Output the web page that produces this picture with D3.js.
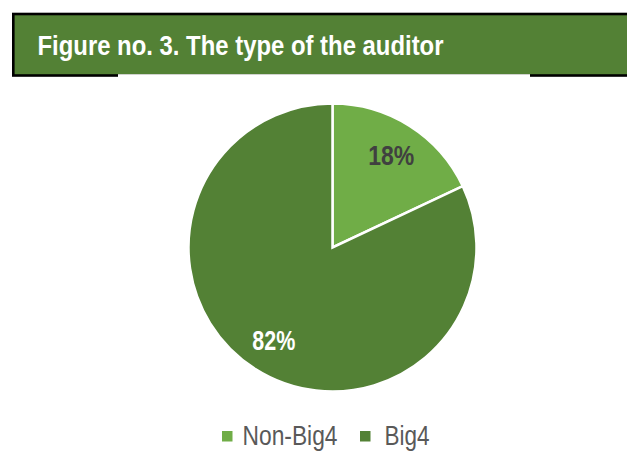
<!DOCTYPE html>
<meta charset="utf-8">
<head>
<style>
body { margin: 0; background: #fff; }
svg { display: block; }
.narrow { font-family: "Liberation Sans Narrow", "Arial Narrow", "Liberation Sans", Arial, sans-serif; }
</style>
</head>
<body>
<script src="https://cdnjs.cloudflare.com/ajax/libs/d3/7.8.5/d3.min.js"></script>
<script>

// data
var titleText = "Figure no. 3. The type of the auditor";
var categories = ["Non-Big4", "Big4"];
var shares = [18, 82];
var colors = ["#70ad47", "#538135"];
var labelColors = ["#404040", "#ffffff"];

var W = 627, H = 473;

var svg = d3.select("body").append("svg")
    .attr("width", W)
    .attr("height", H);

// title band
svg.append("rect")
    .attr("x", 13.3)
    .attr("y", 14)
    .attr("width", 640)
    .attr("height", 61.5)
    .attr("fill", "#538135")
    .attr("stroke", "#000")
    .attr("stroke-width", 2.6);

// chart area sits over part of the band's bottom border
svg.append("rect")
    .attr("x", 118)
    .attr("y", 74.2)
    .attr("width", 412)
    .attr("height", 4)
    .attr("fill", "#fff");

svg.append("text")
    .attr("class", "narrow")
    .attr("x", 37.5)
    .attr("y", 55)
    .attr("fill", "#fff")
    .style("font-size", "28px")
    .style("font-weight", "bold")
    .attr("textLength", 406)
    .attr("lengthAdjust", "spacingAndGlyphs")
    .text(titleText);

// pie
var cx = 332.5, cy = 247.5, r = 144;

var pie = d3.pie().sort(null).value(function(d) { return d; });
var arc = d3.arc().innerRadius(0).outerRadius(r);
var arcs = pie(shares);

var g = svg.append("g")
    .attr("transform", "translate(" + cx + "," + cy + ")");

g.selectAll("path")
    .data(arcs)
    .enter().append("path")
    .attr("d", arc)
    .attr("fill", function(d, i) { return colors[i]; })
    .attr("stroke", "#fff")
    .attr("stroke-width", 2.5)
    .attr("stroke-linejoin", "miter");

// labels
var labelArc = d3.arc().innerRadius(r * 0.76).outerRadius(r * 0.76);
var labelWidths = [46, 43];
g.selectAll("text.pct")
    .data(arcs)
    .enter().append("text")
    .attr("class", "pct narrow")
    .attr("transform", function(d) {
        var c = labelArc.centroid(d);
        return "translate(" + c[0] + "," + c[1] + ")";
    })
    .attr("text-anchor", "middle")
    .attr("dy", 10)
    .attr("fill", function(d, i) { return labelColors[i]; })
    .style("font-size", "27px")
    .style("font-weight", "bold")
    .attr("textLength", function(d, i) { return labelWidths[i]; })
    .attr("lengthAdjust", "spacingAndGlyphs")
    .text(function(d, i) { return shares[i] + "%"; });

// legend
var legendX = [222, 360];
var legendTextX = [20.5, 24.5];
var legendTextW = [95, 45];
var legend = svg.selectAll("g.legend")
    .data(categories)
    .enter().append("g")
    .attr("class", "legend")
    .attr("transform", function(d, i) { return "translate(" + legendX[i] + ",431)"; });

legend.append("rect")
    .attr("width", 10.5)
    .attr("height", 10.5)
    .attr("fill", function(d, i) { return colors[i]; });

legend.append("text")
    .attr("class", "narrow")
    .attr("x", function(d, i) { return legendTextX[i]; })
    .attr("y", 14)
    .attr("fill", "#595959")
    .style("font-size", "27px")
    .attr("textLength", function(d, i) { return legendTextW[i]; })
    .attr("lengthAdjust", "spacingAndGlyphs")
    .text(function(d) { return d; });

</script>
</body>
